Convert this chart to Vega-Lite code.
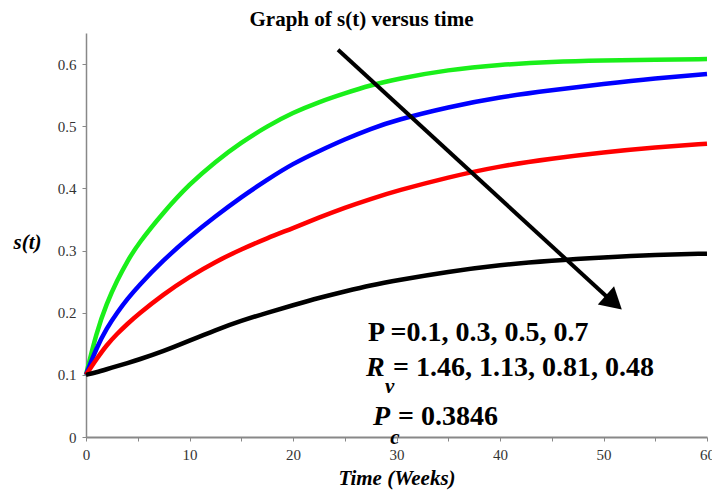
{
  "$schema": "https://vega.github.io/schema/vega-lite/v6.json",
  "width": 621,
  "height": 404,
  "autosize": {"type": "none"},
  "padding": {"left": 86, "top": 33, "right": 5, "bottom": 54},
  "background": "white",
  "title": {
    "text": "Graph of s(t) versus time",
    "font": "Liberation Serif",
    "fontSize": 21,
    "fontWeight": "bold",
    "color": "#000",
    "anchor": "middle",
    "dx": -35,
    "offset": 3
  },
  "config": {
    "view": {"stroke": null},
    "axis": {
      "grid": false,
      "domainColor": "#888",
      "tickColor": "#888",
      "tickSize": 4,
      "labelFont": "Liberation Serif",
      "labelFontSize": 15,
      "labelColor": "#333",
      "titleFont": "Liberation Serif",
      "titleFontSize": 21,
      "titleFontWeight": "bold",
      "titleFontStyle": "italic",
      "titleColor": "#000"
    }
  },
  "datasets": {
    "curves": [
      {"t": 0, "s": 0.1, "c": "g"}, {"t": 1, "s": 0.168, "c": "g"}, {"t": 2, "s": 0.215, "c": "g"}, {"t": 3, "s": 0.252, "c": "g"}, {"t": 4, "s": 0.283, "c": "g"}, {"t": 5, "s": 0.31, "c": "g"}, {"t": 7.5, "s": 0.362, "c": "g"}, {"t": 10, "s": 0.407, "c": "g"}, {"t": 12.5, "s": 0.443, "c": "g"}, {"t": 15, "s": 0.474, "c": "g"}, {"t": 17.5, "s": 0.5, "c": "g"}, {"t": 20, "s": 0.522, "c": "g"}, {"t": 22.5, "s": 0.539, "c": "g"}, {"t": 25, "s": 0.553, "c": "g"}, {"t": 27.5, "s": 0.566, "c": "g"}, {"t": 30, "s": 0.576, "c": "g"}, {"t": 35, "s": 0.591, "c": "g"}, {"t": 40, "s": 0.599, "c": "g"}, {"t": 45, "s": 0.604, "c": "g"}, {"t": 50, "s": 0.606, "c": "g"}, {"t": 55, "s": 0.607, "c": "g"}, {"t": 60, "s": 0.608, "c": "g"},
      {"t": 0, "s": 0.1, "c": "b"}, {"t": 1, "s": 0.143, "c": "b"}, {"t": 2, "s": 0.175, "c": "b"}, {"t": 3, "s": 0.2, "c": "b"}, {"t": 4, "s": 0.222, "c": "b"}, {"t": 5, "s": 0.242, "c": "b"}, {"t": 7.5, "s": 0.285, "c": "b"}, {"t": 10, "s": 0.322, "c": "b"}, {"t": 12.5, "s": 0.355, "c": "b"}, {"t": 15, "s": 0.386, "c": "b"}, {"t": 17.5, "s": 0.414, "c": "b"}, {"t": 20, "s": 0.44, "c": "b"}, {"t": 22.5, "s": 0.46, "c": "b"}, {"t": 25, "s": 0.479, "c": "b"}, {"t": 27.5, "s": 0.496, "c": "b"}, {"t": 30, "s": 0.51, "c": "b"}, {"t": 35, "s": 0.531, "c": "b"}, {"t": 40, "s": 0.547, "c": "b"}, {"t": 45, "s": 0.558, "c": "b"}, {"t": 50, "s": 0.568, "c": "b"}, {"t": 55, "s": 0.577, "c": "b"}, {"t": 60, "s": 0.584, "c": "b"},
      {"t": 0, "s": 0.1, "c": "r"}, {"t": 1, "s": 0.125, "c": "r"}, {"t": 2, "s": 0.148, "c": "r"}, {"t": 3, "s": 0.166, "c": "r"}, {"t": 4, "s": 0.182, "c": "r"}, {"t": 5, "s": 0.197, "c": "r"}, {"t": 7.5, "s": 0.23, "c": "r"}, {"t": 10, "s": 0.258, "c": "r"}, {"t": 12.5, "s": 0.282, "c": "r"}, {"t": 15, "s": 0.302, "c": "r"}, {"t": 17.5, "s": 0.32, "c": "r"}, {"t": 20, "s": 0.336, "c": "r"}, {"t": 22.5, "s": 0.353, "c": "r"}, {"t": 25, "s": 0.369, "c": "r"}, {"t": 27.5, "s": 0.383, "c": "r"}, {"t": 30, "s": 0.396, "c": "r"}, {"t": 35, "s": 0.418, "c": "r"}, {"t": 40, "s": 0.436, "c": "r"}, {"t": 45, "s": 0.448, "c": "r"}, {"t": 50, "s": 0.458, "c": "r"}, {"t": 55, "s": 0.466, "c": "r"}, {"t": 60, "s": 0.472, "c": "r"},
      {"t": 0, "s": 0.1, "c": "k"}, {"t": 1, "s": 0.104, "c": "k"}, {"t": 2, "s": 0.109, "c": "k"}, {"t": 3, "s": 0.114, "c": "k"}, {"t": 4, "s": 0.119, "c": "k"}, {"t": 5, "s": 0.124, "c": "k"}, {"t": 7.5, "s": 0.138, "c": "k"}, {"t": 10, "s": 0.155, "c": "k"}, {"t": 12.5, "s": 0.172, "c": "k"}, {"t": 15, "s": 0.187, "c": "k"}, {"t": 17.5, "s": 0.2, "c": "k"}, {"t": 20, "s": 0.212, "c": "k"}, {"t": 22.5, "s": 0.224, "c": "k"}, {"t": 25, "s": 0.234, "c": "k"}, {"t": 27.5, "s": 0.244, "c": "k"}, {"t": 30, "s": 0.252, "c": "k"}, {"t": 35, "s": 0.266, "c": "k"}, {"t": 40, "s": 0.277, "c": "k"}, {"t": 45, "s": 0.284, "c": "k"}, {"t": 50, "s": 0.289, "c": "k"}, {"t": 55, "s": 0.293, "c": "k"}, {"t": 60, "s": 0.295, "c": "k"}
    ],
    "arrow": [{"t1": 24.35, "s1": 0.623, "t2": 50.43, "s2": 0.224}],
    "head": [{"t": 51.0, "s": 0.2164}],
    "textBold": [
      {"t": 27.25, "s": 0.154, "label": "P =0.1, 0.3, 0.5, 0.7"},
      {"t": 29.66, "s": 0.0986, "label": "= 1.46, 1.13, 0.81, 0.48"},
      {"t": 30.14, "s": 0.0187, "label": "= 0.3846"}
    ],
    "textItalic": [
      {"t": 27.05, "s": 0.0986, "label": "R"},
      {"t": 27.73, "s": 0.0187, "label": "P"}
    ],
    "textSub": [
      {"t": 28.9, "s": 0.071, "label": "v"},
      {"t": 29.4, "s": -0.011, "label": "c"}
    ]
  },
  "layer": [
    {
      "data": {"name": "curves"},
      "mark": {"type": "line", "interpolate": "basis", "strokeWidth": 4.5},
      "encoding": {
        "x": {
          "field": "t", "type": "quantitative",
          "scale": {"domain": [0, 60], "nice": false},
          "axis": {
            "values": [0, 5, 10, 15, 20, 25, 30, 35, 40, 45, 50, 55, 60],
            "labelExpr": "datum.value % 10 == 0 ? datum.label : ''",
            "domainWidth": 2,
            "labelPadding": 6,
            "labelFlush": false,
            "labelOverlap": false,
            "title": "Time (Weeks)",
            "titlePadding": 5
          }
        },
        "y": {
          "field": "s", "type": "quantitative",
          "scale": {"domain": [0, 0.65], "nice": false},
          "axis": {
            "values": [0, 0.1, 0.2, 0.3, 0.4, 0.5, 0.6],
            "format": "~g",
            "domainWidth": 1.5,
            "labelPadding": 6,
            "title": "s(t)",
            "titleAngle": 0,
            "titleAlign": "center",
            "titleBaseline": "middle",
            "titleX": -59,
            "titleY": 209
          }
        },
        "color": {
          "field": "c", "type": "nominal",
          "scale": {"domain": ["g", "b", "r", "k"], "range": ["#1aef1a", "#0000ff", "#ff0000", "#000000"]},
          "legend": null
        },
        "detail": {"field": "c"}
      }
    },
    {
      "data": {"name": "arrow"},
      "mark": {"type": "rule", "strokeWidth": 4, "color": "#000"},
      "encoding": {
        "x": {"field": "t1", "type": "quantitative"},
        "y": {"field": "s1", "type": "quantitative"},
        "x2": {"field": "t2"},
        "y2": {"field": "s2"}
      }
    },
    {
      "data": {"name": "head"},
      "mark": {"type": "point", "shape": "triangle-up", "filled": true, "size": 600, "angle": 131.6, "color": "#000", "opacity": 1},
      "encoding": {
        "x": {"field": "t", "type": "quantitative"},
        "y": {"field": "s", "type": "quantitative"}
      }
    },
    {
      "data": {"name": "textBold"},
      "mark": {"type": "text", "font": "Liberation Serif", "fontSize": 28, "fontWeight": "bold", "align": "left", "baseline": "alphabetic", "color": "#000"},
      "encoding": {
        "x": {"field": "t", "type": "quantitative"},
        "y": {"field": "s", "type": "quantitative"},
        "text": {"field": "label"}
      }
    },
    {
      "data": {"name": "textItalic"},
      "mark": {"type": "text", "font": "Liberation Serif", "fontSize": 28, "fontWeight": "bold", "fontStyle": "italic", "align": "left", "baseline": "alphabetic", "color": "#000"},
      "encoding": {
        "x": {"field": "t", "type": "quantitative"},
        "y": {"field": "s", "type": "quantitative"},
        "text": {"field": "label"}
      }
    },
    {
      "data": {"name": "textSub"},
      "mark": {"type": "text", "font": "Liberation Serif", "fontSize": 21, "fontWeight": "bold", "fontStyle": "italic", "align": "left", "baseline": "alphabetic", "color": "#000"},
      "encoding": {
        "x": {"field": "t", "type": "quantitative"},
        "y": {"field": "s", "type": "quantitative"},
        "text": {"field": "label"}
      }
    }
  ]
}
